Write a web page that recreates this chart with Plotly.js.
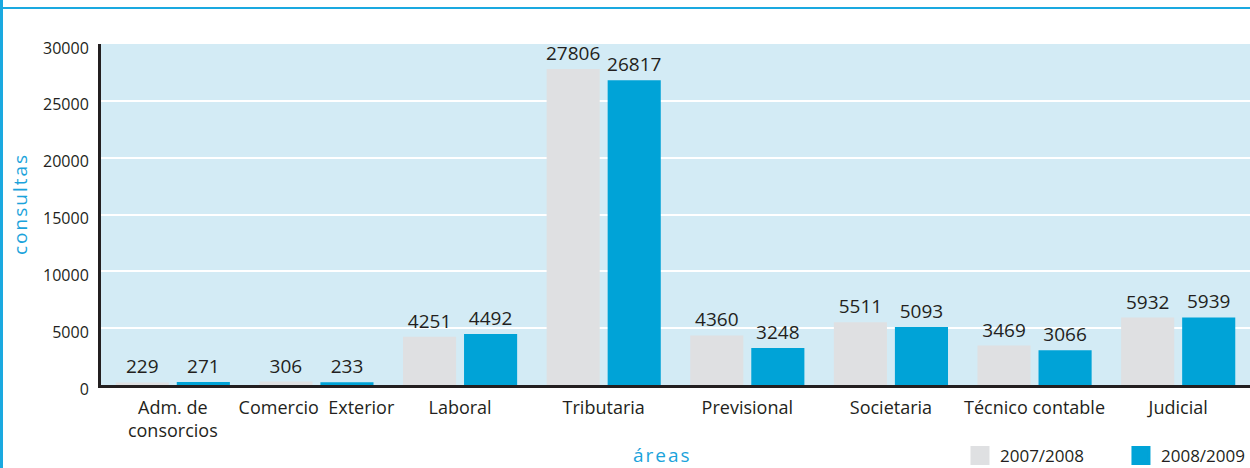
<!DOCTYPE html>
<html>
<head>
<meta charset="utf-8">
<script src="https://cdn.plot.ly/plotly-3.0.1.min.js"></script>
<style>
html,body{margin:0;padding:0;background:#fff;}
#wrap{position:relative;width:1250px;height:468px;overflow:hidden;background:#fff;}
#chart{position:absolute;left:0;top:0;width:1250px;height:468px;}
.frame-left{position:absolute;left:0;top:0;width:3px;height:468px;background:#1aa9e0;z-index:5;}
.frame-top{position:absolute;left:0;top:7px;width:1250px;height:2px;background:#1aa9e0;z-index:5;}
text.annotation-text{letter-spacing:2px;}
</style>
</head>
<body>
<div id="wrap">
  <div id="chart"></div>
  <div class="frame-left"></div>
  <div class="frame-top"></div>
</div>
<script>
// ---- data ----
const areas = ['Adm. de<br>consorcios', 'Comercio\u00a0\u00a0Exterior', 'Laboral', 'Tributaria', 'Previsional', 'Societaria', 'Técnico contable', 'Judicial'];
const consultas0708 = [229, 306, 4251, 27806, 4360, 5511, 3469, 5932];
const consultas0809 = [271, 233, 4492, 26817, 3248, 5093, 3066, 5939];
const seriesNames = ['2007/2008', '2008/2009'];
const yTicks = [0, 5000, 10000, 15000, 20000, 25000, 30000];
const xTitle = 'áreas';
const yTitle = 'consultas';

const GRAY = '#dfe0e2';
const BLUE = '#00a3d7';
const TITLE_BLUE = '#1ba3db';
const INK = '#231f20';

function barTrace(vals, name, color) {
  return {
    type: 'bar', x: areas, y: vals, name: name,
    marker: {color: color},
    text: vals.map(String), textposition: 'outside', constraintext: 'none',
    textfont: {family: 'Open Sans', size: 19, color: INK, weight: 500},
    cliponaxis: false, showlegend: false, legendgroup: name,
    hovertemplate: '%{x}: %{y}<extra>' + name + '</extra>'
  };
}
function legendTrace(name, color, legendId) {
  return {
    type: 'scatter', mode: 'markers', x: [null], y: [null], name: name,
    legendgroup: name, legend: legendId,
    marker: {symbol: 'square', size: 16, color: color, line: {color: color, width: 3}},
    hoverinfo: 'skip'
  };
}

const data = [
  barTrace(consultas0708, seriesNames[0], GRAY),
  barTrace(consultas0809, seriesNames[1], BLUE),
  legendTrace(seriesNames[0], GRAY, 'legend'),
  legendTrace(seriesNames[1], BLUE, 'legend2')
];

function legendBox(xPos) {
  return {
    orientation: 'h', xref: 'paper', x: xPos, xanchor: 'left',
    yref: 'container', y: 0.0256, yanchor: 'middle',
    font: {size: 17, color: INK}, bgcolor: 'rgba(0,0,0,0)',
    itemclick: false, itemdoubleclick: false
  };
}

const layout = {
  width: 1250, height: 468,
  margin: {l: 101, r: 0, t: 44, b: 83, pad: 0},
  paper_bgcolor: 'rgba(0,0,0,0)',
  plot_bgcolor: '#d3ebf5',
  font: {family: 'Open Sans', color: INK},
  barmode: 'group', bargap: 0.15, bargroupgap: 0.13,
  xaxis: {
    type: 'category',
    showline: true, linecolor: INK, linewidth: 3,
    ticks: '', tickfont: {size: 18, color: INK, weight: 500}, ticklabelstandoff: 4,
    showgrid: false, zeroline: false, automargin: false, fixedrange: true
  },
  yaxis: {
    range: [0, 30000], tickvals: yTicks, ticktext: yTicks.map(String),
    showgrid: true, gridcolor: '#ffffff', gridwidth: 2,
    zeroline: false, showline: true, linecolor: INK, linewidth: 3,
    ticks: '', tickfont: {size: 16, color: INK, weight: 500}, ticklabelshift: 4, ticklabelstandoff: 6,
    automargin: false, fixedrange: true
  },
  annotations: [
    {text: xTitle, xref: 'paper', yref: 'paper', x: 0.4883, y: -0.2053,
     xanchor: 'center', yanchor: 'middle', showarrow: false,
     font: {size: 19, color: TITLE_BLUE}},
    {text: yTitle, xref: 'paper', yref: 'paper', x: -0.0705, y: 0.5308,
     xanchor: 'center', yanchor: 'middle', showarrow: false, textangle: -90,
     font: {size: 19, color: TITLE_BLUE}}
  ],
  legend: legendBox(0.7476),
  legend2: legendBox(0.8877),
  showlegend: true
};

Plotly.newPlot('chart', data, layout, {displayModeBar: false});
</script>
</body>
</html>
